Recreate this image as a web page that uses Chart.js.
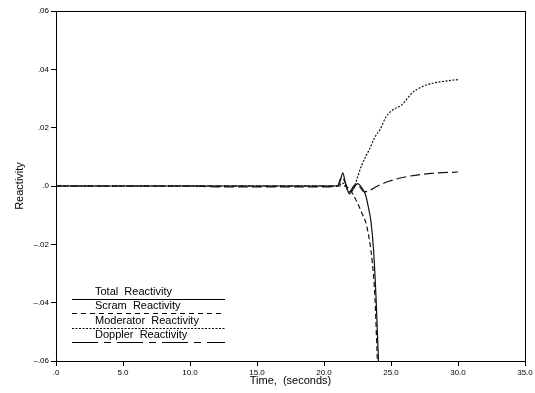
<!DOCTYPE html>
<html>
<head>
<meta charset="utf-8">
<script src="https://cdn.jsdelivr.net/npm/chart.js@4"></script>
<style>
  html, body { margin: 0; padding: 0; background: #fff; }
  #wrap { width: 535px; height: 393px; }
</style>
</head>
<body>
<div id="wrap"><canvas id="reactivityChart"></canvas></div>
<script>
// Valeurs (temps en secondes, réactivité)
const seriesNames = ['Total  Reactivity', 'Scram  Reactivity', 'Moderator  Reactivity', 'Doppler  Reactivity'];

const timeTotal = [0, 10, 20, 21.0, 21.2, 21.4, 21.6, 21.9, 22.2, 22.5, 22.8, 23.1, 23.3, 23.5, 23.7, 23.9, 24.05, 24.2];
const totalReactivity = [0, 0, 0, 0, 0.0015, 0.0045, 0.001, -0.0027, -0.0008, 0.0008, -0.0005, -0.003, -0.007, -0.012, -0.022, -0.04, -0.058, -0.08];

const timeScram = [0, 10, 20, 21.5, 21.9, 22.3, 22.8, 23.2, 23.6, 23.8, 23.95, 24.1];
const scramReactivity = [0, 0, 0, 0, -0.001, -0.004, -0.009, -0.014, -0.026, -0.038, -0.056, -0.075];

const timeModerator = [0, 10, 20, 21.0, 21.4, 21.9, 22.2, 22.5, 22.8, 23.1, 23.4, 23.8, 24.2, 24.6, 25.1, 25.8, 26.6, 27.3, 27.9, 28.8, 30.0];
const moderatorReactivity = [0, 0, 0, 0, 0.001, -0.002, -0.001, 0.003, 0.007, 0.010, 0.0127, 0.0168, 0.0195, 0.0235, 0.026, 0.0278, 0.032, 0.034, 0.035, 0.0358, 0.0365];

const timeDoppler = [0, 10, 12, 20, 21.0, 21.3, 21.5, 21.9, 22.3, 22.6, 23.0, 23.4, 24.0, 24.9, 26.4, 28.0, 30.0];
const dopplerReactivity = [0, 0, -0.0003, -0.0003, 0, 0.003, 0.002, -0.002, 0.0003, 0.0, -0.002, -0.0015, 0.0, 0.0017, 0.0034, 0.0043, 0.0048];

const xTickLabels = ['.0', '5.0', '10.0', '15.0', '20.0', '25.0', '30.0', '35.0'];
const yTickLabels = ['\u2013.06', '\u2013.04', '\u2013.02', '.0', '.02', '.04', '.06'];

function toPoints(times, values) {
    return times.map((t, i) => ({ x: t, y: values[i] }));
}

const FONT = 'Liberation Sans, Arial, sans-serif';

// Légende dessinée dans la zone du graphique (en bas à gauche)
const legendPlugin = {
    id: 'insideLegend',
    afterDatasetsDraw(chart) {
        const ctx = chart.ctx;
        const dashes = [[], [5, 4], [2, 1.5], [26, 6, 7, 6]];
        const lineY = [299, 313, 328, 342];
        ctx.save();
        ctx.font = '11px ' + FONT;
        ctx.fillStyle = '#000';
        ctx.textBaseline = 'middle';
        chart.data.datasets.forEach((ds, i) => {
            ctx.fillText(ds.label, 95, lineY[i] - 7);
            ctx.beginPath();
            ctx.setLineDash(dashes[i]);
            ctx.strokeStyle = '#000';
            ctx.lineWidth = 1;
            ctx.moveTo(72, lineY[i] + 0.5);
            ctx.lineTo(225, lineY[i] + 0.5);
            ctx.stroke();
        });
        ctx.restore();
    }
};

// Cadre autour de la zone du graphique
const framePlugin = {
    id: 'frame',
    afterDraw(chart) {
        const a = chart.chartArea;
        const ctx = chart.ctx;
        ctx.save();
        ctx.strokeStyle = '#000';
        ctx.lineWidth = 1;
        ctx.strokeRect(Math.round(a.left) + 0.5, Math.round(a.top) + 0.5, Math.round(a.right - a.left), Math.round(a.bottom - a.top));
        ctx.restore();
    }
};

const ctx = document.getElementById('reactivityChart').getContext('2d');
new Chart(ctx, {
    type: 'line',
    data: {
        datasets: [
            { label: seriesNames[0], data: toPoints(timeTotal, totalReactivity), borderDash: [] },
            { label: seriesNames[1], data: toPoints(timeScram, scramReactivity), borderDash: [5, 3] },
            { label: seriesNames[2], data: toPoints(timeModerator, moderatorReactivity), borderDash: [2, 1.5] },
            { label: seriesNames[3], data: toPoints(timeDoppler, dopplerReactivity), borderDash: [10, 4] }
        ].map(ds => Object.assign(ds, {
            borderColor: '#111',
            borderWidth: 1.2,
            pointRadius: 0,
            fill: false,
            cubicInterpolationMode: 'monotone'
        }))
    },
    options: {
        responsive: true,
        maintainAspectRatio: false,
        animation: false,
        layout: { padding: { top: 11, right: 10, left: 0, bottom: 0 } },
        plugins: {
            legend: { display: false },
            tooltip: { enabled: false }
        },
        scales: {
            x: {
                type: 'linear',
                min: 0,
                max: 35,
                afterFit(scale) { scale.height = 32; },
                border: { display: true, color: '#000', width: 1 },
                grid: { drawOnChartArea: false, drawTicks: true, tickLength: 5, color: '#000' },
                ticks: {
                    stepSize: 5,
                    padding: 2,
                    color: '#000',
                    font: { family: FONT, size: 8 },
                    maxRotation: 0,
                    callback: (v, i) => xTickLabels[i]
                },
                title: {
                    display: true,
                    text: 'Time,  (seconds)',
                    color: '#000',
                    font: { family: FONT, size: 11 },
                    padding: { top: 0, bottom: 5 }
                }
            },
            y: {
                min: -0.06,
                max: 0.06,
                afterFit(scale) { scale.width = 56; },
                border: { display: true, color: '#000', width: 1 },
                grid: { drawOnChartArea: false, drawTicks: true, tickLength: 5, color: '#000' },
                ticks: {
                    stepSize: 0.02,
                    padding: 2,
                    color: '#000',
                    font: { family: FONT, size: 8 },
                    callback: (v, i) => yTickLabels[i]
                },
                title: {
                    display: true,
                    text: 'Reactivity',
                    color: '#000',
                    font: { family: FONT, size: 11 },
                    padding: { top: 13, bottom: 0 }
                }
            }
        }
    },
    plugins: [legendPlugin, framePlugin]
});
</script>
</body>
</html>
